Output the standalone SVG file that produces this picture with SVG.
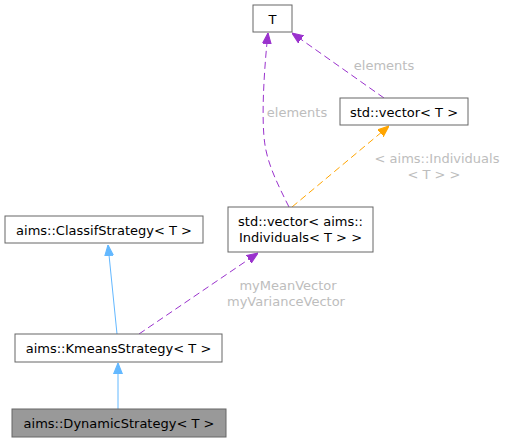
<svg xmlns="http://www.w3.org/2000/svg" width="505" height="443" viewBox="0 0 505 443">
<defs>
<style>
.box{fill:#fff;stroke:#666;stroke-width:1}
.hl{fill:#999;stroke:#666;stroke-width:1}
text{font-family:"DejaVu Sans","Liberation Sans",sans-serif;font-size:13px}
.t{fill:#000;text-anchor:middle}
.l{fill:#bdbdbd;text-anchor:middle}
.inh{fill:none;stroke:#63b8ff;stroke-width:1}
.use{fill:none;stroke:#9a32cd;stroke-width:1;stroke-dasharray:7,4}
.tpl{fill:none;stroke:#ffa500;stroke-width:1;stroke-dasharray:7,4}
</style>
<marker id="ab" viewBox="0 0 10 10" refX="10" refY="5" markerWidth="11" markerHeight="11" markerUnits="userSpaceOnUse" orient="auto"><path d="M0,1 L10,5 L0,9 z" fill="#63b8ff" stroke="#63b8ff"/></marker>
<marker id="ap" viewBox="0 0 10 10" refX="10" refY="5" markerWidth="11" markerHeight="11" markerUnits="userSpaceOnUse" orient="auto"><path d="M0,1 L10,5 L0,9 z" fill="#9a32cd" stroke="#9a32cd"/></marker>
<marker id="ao" viewBox="0 0 10 10" refX="10" refY="5" markerWidth="11" markerHeight="11" markerUnits="userSpaceOnUse" orient="auto"><path d="M0,1 L10,5 L0,9 z" fill="#ffa500" stroke="#ffa500"/></marker>
</defs>
<rect width="505" height="443" fill="#fff"/>
<g id="connectors">
<path class="inh" d="M118,409 L118,363" marker-end="url(#ab)"/>
<path class="inh" d="M117,334 L108,245" marker-end="url(#ab)"/>
<path class="use" d="M139,334 L258,253" marker-end="url(#ap)"/>
<text class="l" x="288" y="289.5">myMeanVector</text>
<text class="l" x="286" y="305.5">myVarianceVector</text>
<path class="tpl" d="M292,207 L389,126" marker-end="url(#ao)"/>
<text class="l" x="437" y="162.5">&lt; aims::Individuals</text>
<text class="l" x="434" y="178.5">&lt; T &gt; &gt;</text>
<path class="use" d="M289,207 C278,185 268,165 265,145 C261,120 264,70 268,33" marker-end="url(#ap)"/>
<text class="l" x="297" y="116.5">elements</text>
<path class="use" d="M384,98 L292,33" marker-end="url(#ap)"/>
<text class="l" x="384" y="70">elements</text>
</g>
<g id="node-T"><rect class="box" x="253" y="5" width="39" height="27"/><text class="t" x="272.5" y="23.5">T</text></g>
<g id="node-vectorT"><rect class="box" x="340" y="98" width="128" height="27"/><text class="t" x="404" y="116.5">std::vector&lt; T &gt;</text></g>
<g id="node-classif"><rect class="box" x="5" y="216" width="198" height="27"/><text class="t" x="104" y="234.5">aims::ClassifStrategy&lt; T &gt;</text></g>
<g id="node-vectorInd"><rect class="box" x="228" y="207" width="145" height="45"/><text class="t" x="300.5" y="226">std::vector&lt; aims::</text><text class="t" x="300.5" y="242">Individuals&lt; T &gt; &gt;</text></g>
<g id="node-kmeans"><rect class="box" x="15" y="334" width="207" height="28"/><text class="t" x="118.5" y="352.5">aims::KmeansStrategy&lt; T &gt;</text></g>
<g id="node-dynamic"><rect class="hl" x="12" y="409" width="214" height="28"/><text class="t" x="119" y="427.5">aims::DynamicStrategy&lt; T &gt;</text></g>
</svg>
